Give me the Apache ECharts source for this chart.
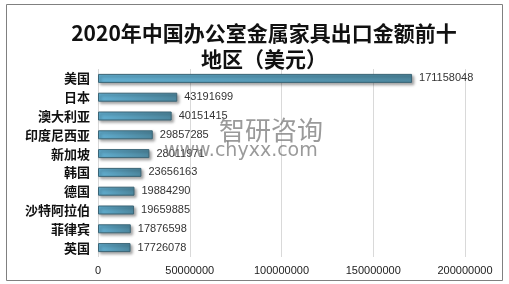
<!DOCTYPE html>
<html>
<head>
<meta charset="utf-8">
<script src="https://cdn.jsdelivr.net/npm/echarts@6/dist/echarts.min.js"></script>
<style>html,body{margin:0;padding:0;background:#fff}#c{width:509px;height:284px}</style>
</head>
<body>
<div id="c"></div>
<script>
var categories = ['美国', '日本', '澳大利亚', '印度尼西亚', '新加坡', '韩国', '德国', '沙特阿拉伯', '菲律宾', '英国'];
var values = [171158048, 43191699, 40151415, 29857285, 28011971, 23656163, 19884290, 19659885, 17876598, 17726078];
var xTicks = [0, 50000000, 100000000, 150000000, 200000000];

var chart = echarts.init(document.getElementById('c'), null, {renderer: 'canvas'});
chart.setOption({
  animation: false,
  backgroundColor: '#fff',
  title: {
    text: '2020年中国办公室金属家具出口金额前十\n地区（美元）',
    left: 259,
    top: 15,
    textAlign: 'center',
    textStyle: {
      fontFamily: 'Noto Sans CJK SC',
      fontSize: 21,
      fontWeight: 'bold',
      color: '#111',
      lineHeight: 26
    }
  },
  grid: {left: 98, right: 44, top: 69, bottom: 27, containLabel: false},
  xAxis: {
    type: 'value',
    min: xTicks[0],
    max: xTicks[xTicks.length - 1],
    interval: xTicks[1] - xTicks[0],
    axisLine: {show: false},
    axisTick: {show: false},
    splitLine: {lineStyle: {color: '#d9d9d9', width: 1}},
    axisLabel: {
      margin: 8,
      fontFamily: 'Liberation Sans',
      fontSize: 11,
      color: '#222',
      formatter: function (v) { return String(v); }
    }
  },
  yAxis: {
    type: 'category',
    data: categories,
    inverse: true,
    axisLine: {show: false},
    axisTick: {show: false},
    axisLabel: {
      margin: 8,
      fontFamily: 'Noto Sans CJK SC',
      fontSize: 13,
      fontWeight: 'bold',
      color: '#111'
    }
  },
  series: [{
    type: 'bar',
    data: values,
    barWidth: 9,
    itemStyle: {
      color: new echarts.graphic.LinearGradient(0, 0, 1, 0, [
        {offset: 0, color: '#62afd1'},
        {offset: 1, color: '#4d879e'}
      ]),
      borderColor: '#3b6576',
      borderWidth: 1,
      shadowColor: 'rgba(0,0,0,0.35)',
      shadowBlur: 3,
      shadowOffsetX: 2,
      shadowOffsetY: 2
    },
    label: {
      show: true,
      position: 'right',
      distance: 7,
      fontFamily: 'Liberation Sans',
      fontSize: 11,
      color: '#333'
    }
  }],
  graphic: [
    {
      type: 'rect',
      shape: {x: 6.5, y: 4.5, width: 496, height: 276},
      style: {fill: 'none', stroke: '#808080', lineWidth: 1},
      silent: true
    },
    {
      type: 'text',
      left: 219, top: 117,
      z: 100,
      style: {text: '智研咨询', fontFamily: 'Noto Sans CJK SC', fontSize: 26, fill: 'rgba(120,120,120,0.75)'},
      silent: true
    },
    {
      type: 'text',
      left: 164, top: 142,
      z: 100,
      style: {text: 'www.chyxx.com', fontFamily: 'DejaVu Sans', fontSize: 19, fill: 'rgba(120,120,120,0.75)'},
      silent: true
    }
  ]
});
</script>
</body>
</html>
